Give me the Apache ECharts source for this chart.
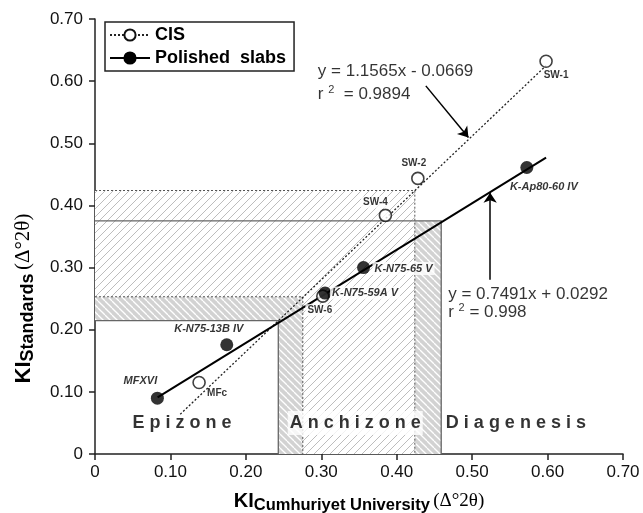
<!DOCTYPE html>
<html><head><meta charset="utf-8">
<script src="https://cdn.jsdelivr.net/npm/echarts@6/dist/echarts.min.js"></script>
<style>html,body{margin:0;padding:0;background:#fff}#c{width:643px;height:513px}</style>
</head><body><div id="c"></div><script>
// ---- data ----
const cisNames = ['SW-1', 'SW-2', 'SW-4', 'SW-6', 'MFc'];
const cisX = [0.598, 0.428, 0.385, 0.302, 0.138];
const cisY = [0.632, 0.4435, 0.384, 0.254, 0.115];
const slabNames = ['K-Ap80-60 IV', 'K-N75-65 V', 'K-N75-59A V', 'K-N75-13B IV', 'MFXVI'];
const slabX = [0.5725, 0.356, 0.305, 0.1747, 0.0827];
const slabY = [0.461, 0.300, 0.259, 0.1758, 0.0898];
// regression line end points
const cisFitX = [0.113, 0.598];
const cisFitY = [0.064, 0.625];
const slabFitX = [0.083, 0.598];
const slabFitY = [0.091, 0.477];
// anchizone limits (x limits and the matching y limits)
const cisLimX = [0.2755, 0.424];
const cisLimY = [0.253, 0.424];
const slabLimX = [0.243, 0.459];
const slabLimY = [0.2145, 0.375];
// zone labels
const zoneNames = ['Epizone', 'Anchizone', 'Diagenesis'];
const zoneX = [0.1154, 0.345, 0.558];
const zoneY = [0.05, 0.05, 0.05];
// equations
const cisEq = ['y = 1.1565x - 0.0669', '0.9894'];
const slabEq = ['y = 0.7491x + 0.0292', '0.998'];
const cisEqPos = [0.2954, 0.5978];
const slabEqPos = [0.4682, 0.2419];
// arrows
const cisArrow = [[0.4386, 0.5924], [0.4951, 0.5092]];
const slabArrow = [[0.5239, 0.2806], [0.5239, 0.4205]];
const legendNames = ['CIS', 'Polished  slabs'];

// ---- styles ----
const ptLabel = {
  'SW-1': [10, 14], 'SW-2': [-4, -15], 'SW-4': [-10, -13], 'SW-6': [-3, 14], 'MFc': [18, 11],
  'K-Ap80-60 IV': [17, 19], 'K-N75-65 V': [40, 1], 'K-N75-59A V': [40, 0],
  'K-N75-13B IV': [-18, -16], 'MFXVI': [-17, -17]
};
const whiteBg = {'K-N75-65 V': 1, 'K-N75-59A V': 1, 'SW-6': 1, 'SW-4': 1};

function makeHatch(bg, fg, lw, s, dir) {
  const c = document.createElement('canvas');
  c.width = s; c.height = s;
  const g = c.getContext('2d');
  g.fillStyle = bg; g.fillRect(0, 0, s, s);
  g.strokeStyle = fg; g.lineWidth = lw;
  for (const k of [-s, 0, s]) {
    g.beginPath();
    if (dir === '/') { g.moveTo(k, s); g.lineTo(k + s, 0); }
    else { g.moveTo(k, 0); g.lineTo(k + s, s); }
    g.stroke();
  }
  return c;
}
const lightHatch = makeHatch('#ffffff', '#bdbdbd', 1, 8, '/');
const grayHatch = makeHatch('#d2d2d2', '#ffffff', 1.3, 7, '\\');

const FONT = 'Liberation Sans, Arial, sans-serif';
const SERIF = 'Liberation Serif, Times New Roman, serif';

function lShape(limX, limY) {
  return [[0, limY[0]], [limX[0], limY[0]], [limX[0], 0], [limX[1], 0], [limX[1], limY[1]], [0, limY[1]]];
}

const chart = echarts.init(document.getElementById('c'), null, {renderer: 'canvas'});

const tickFmt = v => (Math.abs(v) < 1e-9 ? '0' : v.toFixed(2));

function ptData(names, xs, ys, italic) {
  return names.map((n, i) => ({
    value: [xs[i], ys[i]], name: n,
    label: {
      show: true, position: 'inside', offset: ptLabel[n], formatter: n,
      fontSize: italic ? 11 : 10, fontWeight: 'bold', fontStyle: italic ? 'italic' : 'normal',
      color: '#000', fontFamily: FONT,
      backgroundColor: whiteBg[n] ? '#fff' : 'transparent', padding: whiteBg[n] ? [1, 2] : 0
    }
  }));
}

function titleRich(ka, kb, kc, pad) {
  return {
    a: {fontSize: ka, fontWeight: 'bold', fontFamily: FONT, color: '#000'},
    b: {fontSize: kb, fontWeight: 'bold', fontFamily: FONT, color: '#000', padding: [pad, 0, 0, 0]},
    c: {fontSize: kc, fontFamily: SERIF, color: '#000'}
  };
}

const option = {
  animation: false,
  backgroundColor: '#fff',
  grid: {left: 95, right: 20, top: 19, bottom: 59, outerBoundsMode: 'none', containLabel: false},
  legend: {
    orient: 'vertical', left: 105, top: 22, data: legendNames,
    padding: [4, 8, 4, 4], itemGap: 5, itemWidth: 40, itemHeight: 14,
    borderColor: '#222', borderWidth: 1.5, backgroundColor: '#fff',
    textStyle: {fontSize: 18, fontWeight: 'bold', color: '#000', fontFamily: FONT}
  },
  xAxis: {
    type: 'value', min: 0, max: 0.7, interval: 0.1,
    splitLine: {show: false},
    axisLine: {onZero: false, lineStyle: {color: '#222', width: 1.5}},
    axisTick: {length: 6, lineStyle: {color: '#222', width: 1.5}},
    axisLabel: {formatter: tickFmt, fontSize: 17, color: '#111', fontFamily: FONT, margin: 10},
    name: '{a|KI}{b|Cumhuriyet University} {c|(Δ°2θ)}',
    nameLocation: 'middle', nameGap: 34,
    nameTextStyle: {rich: titleRich(20, 16.5, 19, 9)}
  },
  yAxis: {
    type: 'value', min: 0, max: 0.7, interval: 0.1,
    splitLine: {show: false},
    axisLine: {onZero: false, lineStyle: {color: '#222', width: 1.5}},
    axisTick: {length: 6, lineStyle: {color: '#222', width: 1.5}},
    axisLabel: {formatter: tickFmt, fontSize: 17, color: '#111', fontFamily: FONT, margin: 12},
    name: '{a|KI}{b|Standards} {c|(Δ°2θ)}',
    nameLocation: 'middle', nameGap: 58,
    nameTextStyle: {padding: [0, 124, 0, 0], rich: titleRich(22, 18, 21, 9)}
  },
  series: [
    {
      type: 'custom', name: 'zones', silent: true, z: 1,
      data: [[0, 0]],
      renderItem: function (params, api) {
        const P = p => api.coord(p);
        const slabPoly = lShape(slabLimX, slabLimY).map(P);
        const cisPoly = lShape(cisLimX, cisLimY).map(P);
        const edge = (pts, dash, w) => ({
          type: 'polyline', shape: {points: pts.map(P)},
          style: {stroke: dash ? '#555' : '#666', lineWidth: w, lineDash: dash ? [2, 2] : null, fill: null}
        });
        return {
          type: 'group',
          children: [
            {type: 'polygon', shape: {points: slabPoly}, style: {fill: {image: grayHatch, repeat: 'repeat'}, stroke: null}},
            {type: 'polygon', shape: {points: cisPoly}, style: {fill: {image: lightHatch, repeat: 'repeat'}, stroke: null}},
            edge([[0, slabLimY[0]], [slabLimX[0], slabLimY[0]], [slabLimX[0], 0]], false, 1.3),
            edge([[0, slabLimY[1]], [slabLimX[1], slabLimY[1]], [slabLimX[1], 0]], false, 1.3),
            edge([[0, cisLimY[0]], [cisLimX[0], cisLimY[0]], [cisLimX[0], 0]], true, 1),
            edge([[0, cisLimY[1]], [cisLimX[1], cisLimY[1]], [cisLimX[1], 0]], true, 1)
          ]
        };
      }
    },
    {
      type: 'scatter', name: 'zoneLabels', silent: true, z: 3, symbolSize: 0,
      data: zoneNames.map((n, i) => ({
        value: [zoneX[i], zoneY[i]],
        label: {
          show: true, position: 'inside', formatter: n.split('').join(' '),
          fontSize: 18, fontWeight: 'bold', color: '#000', fontFamily: FONT,
          backgroundColor: '#fff', padding: [3, 2]
        }
      }))
    },
    {
      type: 'line', name: 'CIS', z: 4,
      data: cisFitX.map((x, i) => [x, cisFitY[i]]),
      symbol: 'circle', symbolSize: 11, showSymbol: false,
      itemStyle: {color: '#fff', borderColor: '#111', borderWidth: 1.5},
      lineStyle: {color: '#222', width: 1.3, type: [2, 2]}
    },
    {
      type: 'line', name: 'Polished  slabs', z: 4,
      data: slabFitX.map((x, i) => [x, slabFitY[i]]),
      symbol: 'circle', symbolSize: 12, showSymbol: false,
      itemStyle: {color: '#000', borderColor: '#000', borderWidth: 1},
      lineStyle: {color: '#000', width: 2}
    },
    {
      type: 'scatter', name: 'arrows', z: 4, data: [],
      markLine: {
        silent: true, symbol: ['none', 'arrow'], symbolSize: 10,
        label: {show: false},
        itemStyle: {color: '#000'},
        lineStyle: {color: '#000', width: 1.5, type: 'solid'},
        data: [[{coord: cisArrow[0]}, {coord: cisArrow[1]}], [{coord: slabArrow[0]}, {coord: slabArrow[1]}]]
      }
    },
    {
      type: 'scatter', name: 'CIS points', z: 5, symbolSize: 12,
      itemStyle: {color: '#fff', borderColor: '#111', borderWidth: 1.6},
      data: ptData(cisNames, cisX, cisY, false)
    },
    {
      type: 'scatter', name: 'Slab points', z: 5, symbolSize: 13,
      itemStyle: {color: '#000', borderColor: '#000', borderWidth: 0},
      data: ptData(slabNames, slabX, slabY, true)
    },
    {
      type: 'scatter', name: 'equations', silent: true, z: 6, symbolSize: 0,
      data: [
        {value: cisEqPos, label: {show: true, position: 'inside', align: 'left', verticalAlign: 'middle',
          formatter: cisEq[0] + '\n{r|r }{s|2}{r|  = ' + cisEq[1] + '}', fontSize: 17, lineHeight: 23,
          color: '#000', fontFamily: FONT,
          rich: {r: {fontSize: 17, fontFamily: FONT, color: '#000', lineHeight: 23}, s: {fontSize: 11, fontFamily: FONT, color: '#000', padding: [0, 0, 9, 0]}}}},
        {value: slabEqPos, label: {show: true, position: 'inside', align: 'left', verticalAlign: 'middle',
          formatter: slabEq[0] + '\n{r|r }{s|2}{r| = ' + slabEq[1] + '}', fontSize: 17, lineHeight: 18,
          color: '#000', fontFamily: FONT,
          rich: {r: {fontSize: 17, fontFamily: FONT, color: '#000', lineHeight: 18}, s: {fontSize: 11, fontFamily: FONT, color: '#000', padding: [0, 0, 9, 0]}}}}
      ]
    }
  ]
};
chart.setOption(option);
</script></body></html>
